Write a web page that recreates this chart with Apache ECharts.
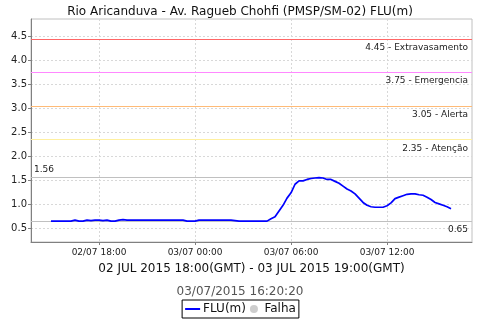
<!DOCTYPE html>
<html>
<head>
<meta charset="utf-8">
<script src="https://cdn.jsdelivr.net/npm/echarts@6/dist/echarts.min.js"></script>
<style>html,body{margin:0;padding:0;background:#fff}#c{width:480px;height:320px}</style>
</head>
<body>
<div id="c"></div>
<script>
// Time axis in hours since 02/07/2015 00:00
const startHour = 15;      // first reading 02/07 15:00
const stepHours = 0.25;    // 15-minute readings
const levels = [
  0.65,0.65,0.65,0.65,0.65,0.65,
  0.67,0.65,0.65,0.67,0.66,0.67,0.67,0.66,0.67,0.65,0.65,0.67,0.68,0.67,
  0.67,0.67,0.67,0.67,0.67,0.67,0.67,0.67,0.67,0.67,0.67,0.67,0.67,0.67,
  0.65,0.65,0.65,
  0.67,0.67,0.67,0.67,0.67,0.67,0.67,0.67,0.67,
  0.66,
  0.65,0.65,0.65,0.65,0.65,0.65,0.65,0.65,
  0.70,0.74,0.86,0.98,1.13,1.24,1.42,1.49,1.49,1.52,1.54,1.55,1.56,1.55,1.52,1.52,
  1.48,1.44,1.38,1.32,1.28,1.22,1.13,1.04,0.98,0.95,0.94,0.94,0.94,0.97,1.03,1.12,
  1.15,1.18,1.21,1.22,1.22,1.20,1.19,1.15,1.10,1.04,1.01,0.98,0.95,0.91
];
const xTickValues = [18, 24, 30, 36];
const xTickLabels = ['02/07 18:00', '03/07 00:00', '03/07 06:00', '03/07 12:00'];
const yTickValues = [0.5, 1.0, 1.5, 2.0, 2.5, 3.0, 3.5, 4.0, 4.5];
const thresholdValues = [4.45, 3.75, 3.05, 2.35];
const thresholdNames = ['Extravasamento', 'Emergencia', 'Alerta', 'Atenção'];
const thresholdColors = ['#ff6666', '#ff88ff', '#ffbb77', '#fff0a0'];
const maxLevel = 1.56;
const minLevel = 0.65;

const seriesData = levels.map((v, i) => [startHour + i * stepHours, v]);
const FONT = 'DejaVu Sans';

const markLines = [];
markLines.push({
  yAxis: maxLevel,
  lineStyle: { color: '#c0c0c0', width: 1, type: 'solid' },
  label: { show: true, position: 'insideStartTop', distance: [3, 3], formatter: maxLevel.toFixed(2),
    fontFamily: FONT, fontSize: 9, color: '#222' }
});
markLines.push({
  yAxis: minLevel,
  lineStyle: { color: '#c0c0c0', width: 1, type: 'solid' },
  label: { show: true, position: 'insideEndBottom', distance: [4, 4], formatter: minLevel.toFixed(2),
    fontFamily: FONT, fontSize: 9, color: '#222' }
});
thresholdValues.forEach((v, i) => markLines.push({
  yAxis: v,
  lineStyle: { color: thresholdColors[i], width: 1, type: 'solid', opacity: 1 },
  label: {
    show: true, position: 'insideEndBottom', distance: [4, 4],
    formatter: v.toFixed(2) + ' - ' + thresholdNames[i],
    fontFamily: FONT, fontSize: 9, color: '#222'
  }
}));

const chart = echarts.init(document.getElementById('c'), null, { renderer: 'canvas' });
chart.setOption({
  animation: false,
  backgroundColor: '#fff',
  title: [
    { text: 'Rio Aricanduva - Av. Ragueb Chohfi (PMSP/SM-02) FLU(m)', left: 'center', top: 1,
      textStyle: { fontFamily: FONT, fontSize: 12, fontWeight: 'normal', color: '#111' } },
    { text: '03/07/2015 16:20:20', left: 'center', top: 281,
      textStyle: { fontFamily: FONT, fontSize: 12, fontWeight: 'normal', color: '#555' } }
  ],
  legend: {
    bottom: 2, left: 'center', orient: 'horizontal',
    borderColor: '#000', borderWidth: 1, borderRadius: 0, padding: [3, 3, 3, 2],
    itemGap: 4, itemWidth: 15, itemHeight: 8,
    textStyle: { fontFamily: FONT, fontSize: 12, color: '#111', padding: [0, 0, 0, -2] },
    data: [
      { name: 'FLU(m)', itemStyle: { opacity: 0 } },
      { name: 'Falha', icon: 'circle' }
    ]
  },
  grid: { left: 31, right: 8, top: 19, bottom: 78, show: true, borderColor: '#c0c0c0', borderWidth: 1 },
  xAxis: {
    type: 'value', min: 13.75, max: 41.31,
    name: '02 JUL 2015 18:00(GMT) - 03 JUL 2015 19:00(GMT)',
    nameLocation: 'middle', nameGap: 21,
    nameTextStyle: { fontFamily: FONT, fontSize: 12, color: '#111', verticalAlign: 'top' },
    axisLine: { show: true, lineStyle: { color: '#808080', width: 1 } },
    axisTick: { show: true, length: 3, customValues: xTickValues, lineStyle: { color: '#808080' } },
    axisLabel: {
      customValues: xTickValues, fontFamily: FONT, fontSize: 9, color: '#222', margin: 6,
      formatter: v => xTickLabels[xTickValues.indexOf(v)] || ''
    },
    splitLine: { show: true, lineStyle: { color: '#d8d8d8', type: [2, 2], width: 1 } }
  },
  yAxis: {
    type: 'value', min: 0.214, max: 4.87,
    axisLine: { show: true, lineStyle: { color: '#808080', width: 1 } },
    axisTick: { show: true, length: 3, customValues: yTickValues, lineStyle: { color: '#808080' } },
    axisLabel: {
      customValues: yTickValues, fontFamily: FONT, fontSize: 10, color: '#222', margin: 4,
      formatter: v => v.toFixed(1)
    },
    splitLine: { show: true, lineStyle: { color: '#d8d8d8', type: [2, 2], width: 1 } }
  },
  series: [
    {
      name: 'FLU(m)', type: 'line', data: seriesData, symbol: 'none', showSymbol: false,
      lineStyle: { color: '#0000ff', width: 1.7 }, itemStyle: { color: '#0000ff' },
      z: 5,
      markLine: { silent: true, symbol: ['none', 'none'], animation: false, data: markLines }
    },
    {
      name: 'Falha', type: 'scatter', data: [], itemStyle: { color: '#c0c0c0' }
    }
  ]
});
</script>
</body>
</html>
